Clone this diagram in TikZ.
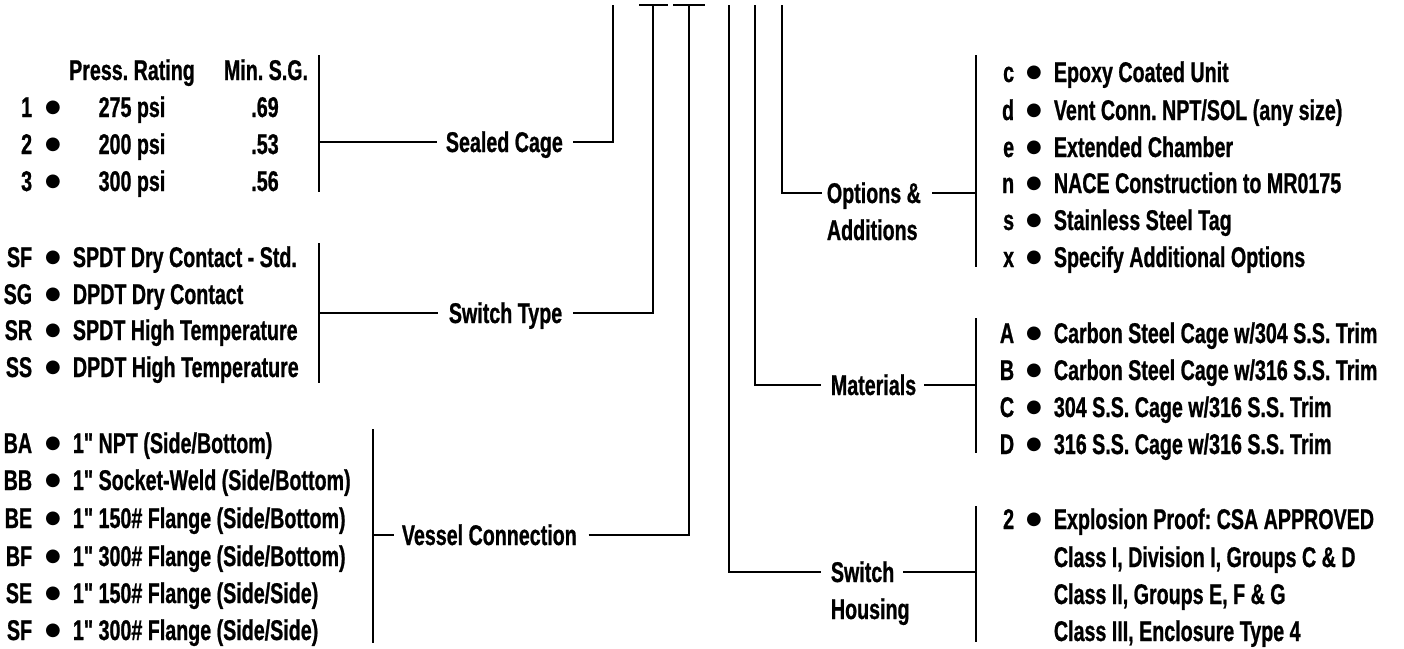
\documentclass[tikz,border=0pt]{standalone}
\usepackage{fontspec}
\setmainfont{Liberation Sans}[Ligatures=TeXOff,FakeStretch=0.69,FakeBold=0.8]
\newfontfamily\bulfont{DejaVu Sans}
\newcommand\qq{"}
\newcommand\myrow[7]{%
  \node[t,anchor=base east] (#1c) at (#2,#5) {#6};
  \node[bul,anchor=base] (#1b) at (#3,#5) {●};
  \node[t,anchor=base west] (#1t) at (#4,#5) {#7};}
\begin{document}
\frenchspacing
\begin{tikzpicture}[x=1pt,y=-1pt,line width=1.8pt,
  t/.style={font=\fontsize{28.5}{34}\selectfont\bfseries,inner sep=0pt},
  bul/.style={font=\bulfont\fontsize{18}{18}\selectfont,inner sep=0pt,yshift=4.5pt},
  lab/.style={t,anchor=base west}]
\useasboundingbox (0,0) rectangle (1404,648);

% ---------- Sealed cage list ----------
\node[t,anchor=base] (hp) at (132,80) {Press. Rating};
\node[t,anchor=base] (hm) at (266,80) {Min. S.G.};
\foreach \n/\c/\p/\s/\y in {a/1/275/.69/117, b/2/200/.53/154, c/3/300/.56/191}{
  \node[t,anchor=base east] (sc\n c) at (33,\y) {\c};
  \node[bul,anchor=base] (sc\n b) at (53,\y) {●};
  \node[t,anchor=base] (sc\n p) at (132,\y) {\p{} psi};
  \node[t,anchor=base] (sc\n s) at (265,\y) {\s};
}
% ---------- Switch type list ----------
\myrow{sta}{33}{53}{72}{267}{SF}{SPDT Dry Contact - Std.}
\myrow{stb}{33}{53}{72}{304}{SG}{DPDT Dry Contact}
\myrow{stc}{33}{53}{72}{340}{SR}{SPDT High Temperature}
\myrow{std}{33}{53}{72}{377}{SS}{DPDT High Temperature}
% ---------- Vessel connection list ----------
\myrow{vca}{33}{53}{72}{453}{BA}{1\qq{} NPT (Side/Bottom)}
\myrow{vcb}{33}{53}{72}{490}{BB}{1\qq{} Socket-Weld (Side/Bottom)}
\myrow{vcc}{33}{53}{72}{528}{BE}{1\qq{} 150\# Flange (Side/Bottom)}
\myrow{vcd}{33}{53}{72}{566}{BF}{1\qq{} 300\# Flange (Side/Bottom)}
\myrow{vce}{33}{53}{72}{603}{SE}{1\qq{} 150\# Flange (Side/Side)}
\myrow{vcf}{33}{53}{72}{640}{SF}{1\qq{} 300\# Flange (Side/Side)}
% ---------- Options list ----------
\myrow{opa}{1015}{1034}{1053}{82}{c}{Epoxy Coated Unit}
\myrow{opb}{1015}{1034}{1053}{120}{d}{Vent Conn. NPT/SOL (any size)}
\myrow{opc}{1015}{1034}{1053}{157}{e}{Extended Chamber}
\myrow{opd}{1015}{1034}{1053}{193}{n}{NACE Construction to MR0175}
\myrow{ope}{1015}{1034}{1053}{230}{s}{Stainless Steel Tag}
\myrow{opf}{1015}{1034}{1053}{267}{x}{Specify Additional Options}
% ---------- Materials list ----------
\myrow{maa}{1015}{1034}{1053}{343}{A}{Carbon Steel Cage w/304 S.S. Trim}
\myrow{mab}{1015}{1034}{1053}{380}{B}{Carbon Steel Cage w/316 S.S. Trim}
\myrow{mac}{1015}{1034}{1053}{417}{C}{304 S.S. Cage w/316 S.S. Trim}
\myrow{mad}{1015}{1034}{1053}{454}{D}{316 S.S. Cage w/316 S.S. Trim}
% ---------- Housing list ----------
\myrow{sha}{1015}{1034}{1053}{529}{2}{Explosion Proof: CSA APPROVED}
\node[t,anchor=base west] (shb) at (1053,567) {Class I, Division I, Groups C \& D};
\node[t,anchor=base west] (shc) at (1053,604) {Class II, Groups E, F \& G};
\node[t,anchor=base west] (shd) at (1053,641) {Class III, Enclosure Type 4};

% ---------- Labels ----------
\node[lab] (sc) at (445,152) {Sealed Cage};
\node[lab] (st) at (448,323) {Switch Type};
\node[lab] (vc) at (401,545) {Vessel Connection};
\node[lab] (op) at (826,203) {Options \&};
\node[lab] (op2) at (826,240) {Additions};
\node[lab] (ma) at (830,395) {Materials};
\node[lab] (sh) at (830,582) {Switch};
\node[lab] (sh2) at (830,619) {Housing};

% ---------- Coordinates ----------
\coordinate (scB1) at (319,55);  \coordinate (scB2) at (319,192);
\coordinate (scL1) at (319,142); \coordinate (scL2) at (437,142);
\coordinate (scR1) at (573,142); \coordinate (scR2) at (613,142); \coordinate (scT) at (613,5);

\coordinate (stB1) at (319,243); \coordinate (stB2) at (319,383);
\coordinate (stL1) at (319,313); \coordinate (stL2) at (438,313);
\coordinate (stR1) at (573,313); \coordinate (stR2) at (653,313); \coordinate (stT) at (653,5);
\coordinate (stTa) at (639,5); \coordinate (stTb) at (668,5);

\coordinate (vcB1) at (373,429); \coordinate (vcB2) at (373,643);
\coordinate (vcL1) at (373,535); \coordinate (vcL2) at (394,535);
\path ([xshift=11pt]vc.east) coordinate (vcE);
\coordinate (vcR1) at (vcE |- vcL1); \coordinate (vcR2) at (689,535); \coordinate (vcT) at (689,5);
\coordinate (vcTa) at (673,5); \coordinate (vcTb) at (705,5);

\coordinate (shT) at (729,5); \coordinate (shL1) at (729,572); \coordinate (shL2) at (821,572);
\coordinate (shR1) at (903,572); \coordinate (shR2) at (976,572);
\coordinate (shB1) at (976,506); \coordinate (shB2) at (976,642);

\coordinate (maT) at (755,5); \coordinate (maL1) at (755,385); \coordinate (maL2) at (821,385);
\coordinate (maR1) at (924,385); \coordinate (maR2) at (976,385);
\coordinate (maB1) at (976,318); \coordinate (maB2) at (976,453);

\coordinate (opT) at (782,5); \coordinate (opL1) at (782,193); \coordinate (opL2) at (822,193);
\coordinate (opR1) at (932,193); \coordinate (opR2) at (976,193);
\coordinate (opB1) at (976,55); \coordinate (opB2) at (976,267);

% ---------- Lines ----------
\draw (scB1) -- (scB2);
\draw (scL1) -- (scL2);
\draw (scR1) -- (scR2) -- (scT);

\draw (stB1) -- (stB2);
\draw (stL1) -- (stL2);
\draw (stR1) -- (stR2) -- (stT);
\draw (stTa) -- (stTb);

\draw (vcB1) -- (vcB2);
\draw (vcL1) -- (vcL2);
\draw (vcR1) -- (vcR2) -- (vcT);
\draw (vcTa) -- (vcTb);

\draw (shT) -- (shL1) -- (shL2);
\draw (shR1) -- (shR2);
\draw (shB1) -- (shB2);

\draw (maT) -- (maL1) -- (maL2);
\draw (maR1) -- (maR2);
\draw (maB1) -- (maB2);

\draw (opT) -- (opL1) -- (opL2);
\draw (opR1) -- (opR2);
\draw (opB1) -- (opB2);
\end{tikzpicture}
\end{document}
